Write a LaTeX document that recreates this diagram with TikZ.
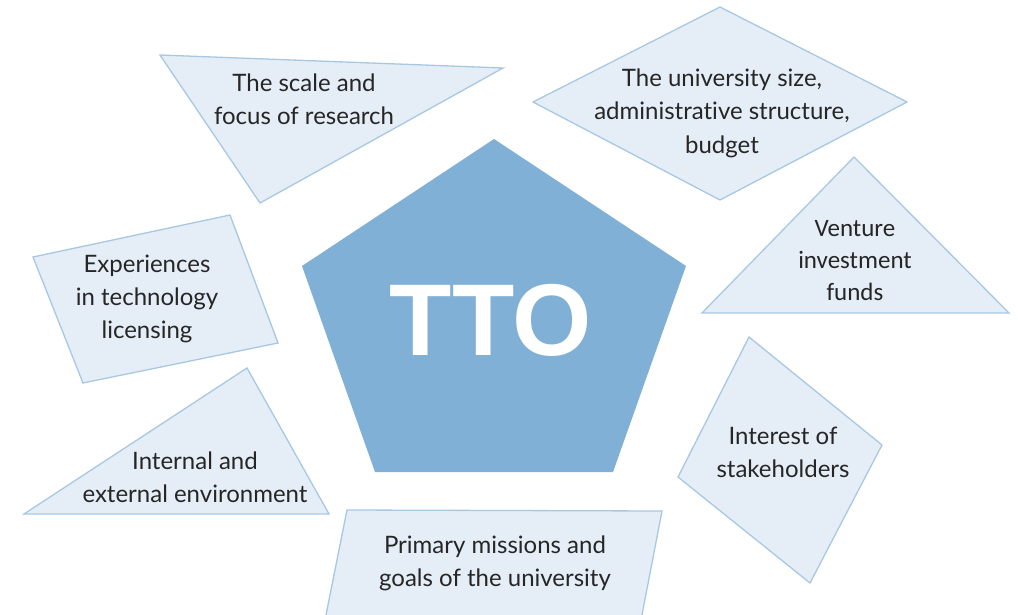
\documentclass[tikz,border=0pt]{standalone}
\usepackage{fontspec}
\usepackage{tikz}
\newfontfamily\labelfont[Ligatures=NoCommon]{Lato}
\newfontfamily\venturefont{Carlito}
\newfontfamily\ttofont{Liberation Sans}
\definecolor{ttoblue}{HTML}{80B0D5}
\definecolor{boxfill}{HTML}{E5EEF7}
\definecolor{boxline}{HTML}{A8C8E2}
\definecolor{labeltext}{HTML}{262626}

\begin{document}
\begin{tikzpicture}[
      x=1pt,
      y=-1pt,
      factor/.style={
        fill=boxfill,
        draw=boxline,
        line width=1.3pt,
        line join=miter
      },
      label/.style={
        align=center,
        text=labeltext,
        inner sep=0pt,
        font=\labelfont\fontsize{24}{33}\selectfont
      }
    ]
      \clip (0,0) rectangle (1018,614);

      % centre pentagon
      \fill[ttoblue] (494,139) -- (686,266) -- (613,472) -- (375,472) -- (302,266) -- cycle;
      \node (tto) at (491,320) [text=white,inner sep=0pt,
        font=\ttofont\bfseries\fontsize{102}{102}\selectfont]{TTO};

      % surrounding factors
      \draw[factor] (160,55) -- (503,68) -- (260,203) -- cycle;
      \draw[factor] (720,7) -- (907,102) -- (720,200) -- (533,102) -- cycle;
      \draw[factor] (854,157) -- (1009,313) -- (702,313) -- cycle;
      \draw[factor] (33,257) -- (230,215) -- (278,343) -- (83,383) -- cycle;
      \draw[factor] (247,368) -- (329,514) -- (24,514) -- cycle;
      \draw[factor] (749,337) -- (882,445) -- (810,583) -- (678,477) -- cycle;
      \draw[factor] (347,510) -- (662,511) -- (641,620) -- (325,620) -- cycle;

      \node (scale) at (304,99) [label]{The scale and\\focus of research};
      \node (size) at (722,113) [label,font=\labelfont\fontsize{24}{33.5}\selectfont]{The university size,\\administrative structure,\\budget};
      \node (venture) at (855,261) [label,font=\venturefont\fontsize{25}{32}\selectfont]{Venture\\investment\\funds};
      \node (licensing) at (147,299) [label]{Experiences\\in technology\\licensing};
      \node (environment) at (195,477) [label]{Internal and\\external environment};
      \node (stakeholders) at (783,452) [label]{Interest of\\stakeholders};
      \node (missions) at (495,563) [label]{Primary missions and\\goals of the university};

    \end{tikzpicture}
\end{document}
